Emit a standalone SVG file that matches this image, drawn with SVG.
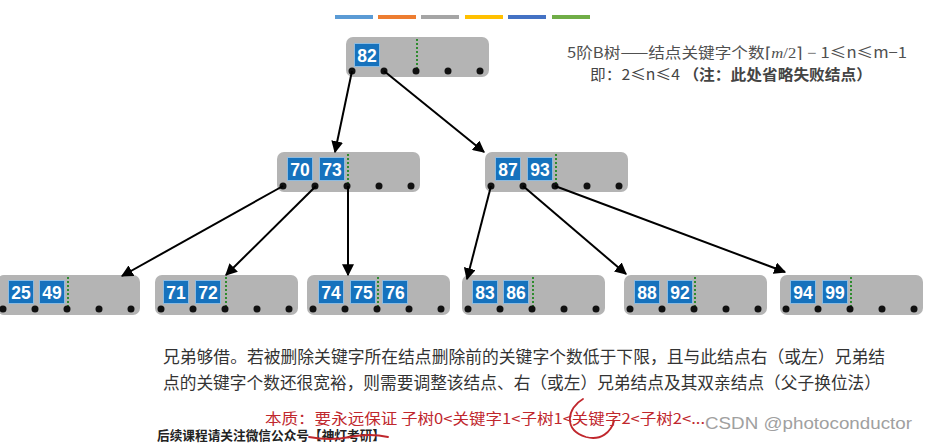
<svg xmlns="http://www.w3.org/2000/svg" width="928" height="444" viewBox="0 0 928 444">
<style>
.node{fill:#b4b4b4}
.key{fill:#1672bd;stroke:#8dbbe0;stroke-width:1}
.kt{fill:#fff;font-family:"Liberation Sans",Arial,sans-serif;font-weight:bold;font-size:17.5px;text-anchor:middle}
.dot{fill:#111}
.sep{stroke:#2e8b2e;stroke-width:2;stroke-dasharray:2 2}
.edge{stroke:#000;stroke-width:2;fill:none;marker-end:url(#ah)}
.cjk{font-family:"Noto Sans CJK SC","Liberation Sans",sans-serif}
</style>
<defs>
<marker id="ah" viewBox="0 0 10 10" refX="9" refY="5" markerWidth="6" markerHeight="6" orient="auto" markerUnits="strokeWidth">
<path d="M0,0 L10,5 L0,10 z" fill="#000"/>
</marker>
<g id="base">
<rect class="node" x="0" y="0" width="143" height="40" rx="7"/>
<line class="sep" x1="71" y1="2" x2="71" y2="35"/>
<circle class="dot" cx="6" cy="34" r="3.5"/>
<circle class="dot" cx="38" cy="34" r="3.5"/>
<circle class="dot" cx="70" cy="34" r="3.5"/>
<circle class="dot" cx="102" cy="34" r="3.5"/>
<circle class="dot" cx="134" cy="34" r="3.5"/>
</g>
</defs>
<rect width="928" height="444" fill="#fff"/>
<g id="colorbars">
<rect x="335" y="15" width="38" height="4" fill="#5b9bd5"/>
<rect x="378" y="15" width="38" height="4" fill="#ed7d31"/>
<rect x="421" y="15" width="38" height="4" fill="#a5a5a5"/>
<rect x="465" y="15" width="38" height="4" fill="#ffc000"/>
<rect x="508" y="15" width="38" height="4" fill="#4472c4"/>
<rect x="552" y="15" width="38" height="4" fill="#70ad47"/>
</g>
<g id="root" transform="translate(346,37)">
<use href="#base"/>
<rect class="key" x="8.5" y="6.5" width="25" height="23"/><text class="kt" x="21" y="24.5">82</text>
</g>
<g id="n7073" transform="translate(277,152)">
<use href="#base"/>
<rect class="key" x="10.5" y="5.5" width="25" height="23"/><text class="kt" x="23" y="23.5">70</text>
<rect class="key" x="42.5" y="5.5" width="25" height="23"/><text class="kt" x="55" y="23.5">73</text>
</g>
<g id="n8793" transform="translate(485,152)">
<use href="#base"/>
<rect class="key" x="10.5" y="5.5" width="25" height="23"/><text class="kt" x="23" y="23.5">87</text>
<rect class="key" x="42.5" y="5.5" width="25" height="23"/><text class="kt" x="55" y="23.5">93</text>
</g>
<g id="n2549" transform="translate(-3,275)">
<use href="#base"/>
<rect class="key" x="11.5" y="5.5" width="25" height="23"/><text class="kt" x="24" y="23.5">25</text>
<rect class="key" x="42.5" y="5.5" width="25" height="23"/><text class="kt" x="55" y="23.5">49</text>
</g>
<g id="n7172" transform="translate(155,275)">
<use href="#base"/>
<rect class="key" x="8.5" y="5.5" width="25" height="23"/><text class="kt" x="21" y="23.5">71</text>
<rect class="key" x="40.5" y="5.5" width="25" height="23"/><text class="kt" x="53" y="23.5">72</text>
</g>
<g id="n747576" transform="translate(307,275)">
<use href="#base"/>
<rect class="key" x="11.5" y="5.5" width="25" height="23"/><text class="kt" x="24" y="23.5">74</text>
<rect class="key" x="43.5" y="5.5" width="25" height="23"/><text class="kt" x="56" y="23.5">75</text>
<rect class="key" x="75.5" y="5.5" width="25" height="23"/><text class="kt" x="88" y="23.5">76</text>
</g>
<g id="n8386" transform="translate(462,275)">
<use href="#base"/>
<rect class="key" x="10.5" y="5.5" width="25" height="23"/><text class="kt" x="23" y="23.5">83</text>
<rect class="key" x="41.5" y="5.5" width="25" height="23"/><text class="kt" x="54" y="23.5">86</text>
</g>
<g id="n8892" transform="translate(624,275)">
<use href="#base"/>
<rect class="key" x="10.5" y="5.5" width="25" height="23"/><text class="kt" x="23" y="23.5">88</text>
<rect class="key" x="43.5" y="5.5" width="25" height="23"/><text class="kt" x="56" y="23.5">92</text>
</g>
<g id="n9499" transform="translate(780,275)">
<use href="#base"/>
<rect class="key" x="10.5" y="5.5" width="25" height="23"/><text class="kt" x="23" y="23.5">94</text>
<rect class="key" x="42.5" y="5.5" width="25" height="23"/><text class="kt" x="55" y="23.5">99</text>
</g>
<g id="connectors">
<line class="edge" x1="352" y1="71" x2="335" y2="152"/>
<line class="edge" x1="384" y1="71" x2="484" y2="152"/>
<line class="edge" x1="283" y1="186" x2="122" y2="276"/>
<line class="edge" x1="316" y1="186" x2="226" y2="275"/>
<line class="edge" x1="348" y1="186" x2="348" y2="275"/>
<line class="edge" x1="491" y1="186" x2="467" y2="279"/>
<line class="edge" x1="523" y1="186" x2="626" y2="274"/>
<line class="edge" x1="555" y1="186" x2="785" y2="272"/>
</g>
<g id="notes" class="cjk">
<text x="567" y="58" font-size="15" fill="#505050" textLength="340" lengthAdjust="spacingAndGlyphs">5阶B树——结点关键字个数<tspan font-family="'Liberation Serif',serif">⌈<tspan font-style="italic">m</tspan>/2⌉ − </tspan>1≤n≤m−1</text>
<text x="590" y="80" font-size="15" fill="#444" textLength="282" lengthAdjust="spacingAndGlyphs">即：2≤n≤4 <tspan font-weight="bold">（注：此处省略失败结点）</tspan></text>
<text x="163" y="363" font-size="16.5" fill="#333" textLength="722" lengthAdjust="spacingAndGlyphs">兄弟够借。若被删除关键字所在结点删除前的关键字个数低于下限，且与此结点右（或左）兄弟结</text>
<text x="163" y="389" font-size="16.5" fill="#333" textLength="718" lengthAdjust="spacingAndGlyphs">点的关键字个数还很宽裕，则需要调整该结点、右（或左）兄弟结点及其双亲结点（父子换位法）</text>
<text x="157" y="440" font-size="13" font-weight="bold" fill="#222" textLength="228" lengthAdjust="spacingAndGlyphs">后续课程请关注微信公众号【神灯考研】</text>
<text x="265" y="424" font-size="14.5" fill="#c0272d" textLength="440" lengthAdjust="spacingAndGlyphs">本质：要永远保证 子树0&lt;关键字1&lt;子树1&lt;关键字2&lt;子树2&lt;...</text>
<text x="705" y="429" font-size="17" fill="#a0a0a0" font-family="'Liberation Sans',Arial,sans-serif" textLength="207" lengthAdjust="spacingAndGlyphs">CSDN @photoconductor</text>
</g>
<g id="marks" fill="none" stroke="#c0272d" stroke-width="1.8" stroke-linecap="round">
<path d="M583 399 C567 408 563 430 586 437 C601 441 611 432 614 421"/>
<path d="M309 437 Q330 441 350 437 T388 437"/>
</g>
</svg>
